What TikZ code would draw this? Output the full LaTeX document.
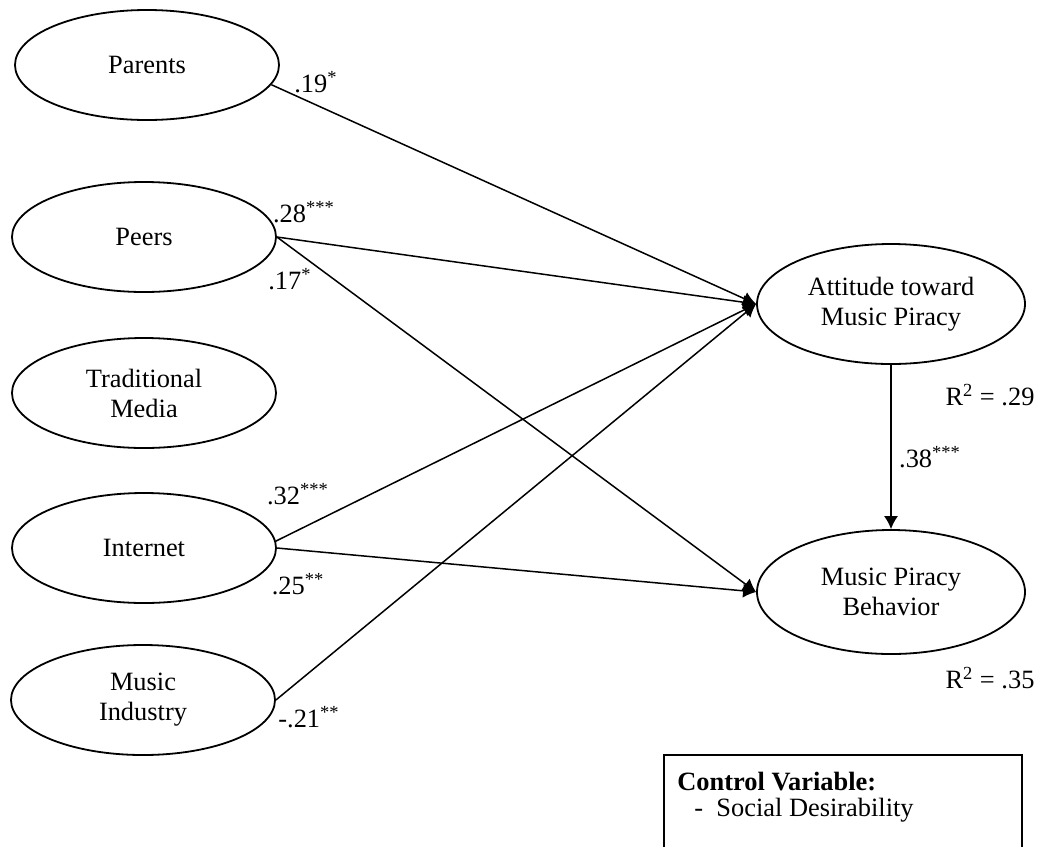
\documentclass[tikz,border=0pt]{standalone}
\usepackage{fontspec}
\setmainfont{Liberation Serif}
\usetikzlibrary{shapes.geometric,arrows.meta}
\begin{document}
\begin{tikzpicture}[x=0.5pt,y=-0.5pt,
  font=\fontsize{13.2}{15}\selectfont,
  lat/.style={draw,ellipse,line width=0.9pt,inner sep=0pt,minimum width=132pt,minimum height=55pt},
  dep/.style={draw,ellipse,line width=0.9pt,inner sep=0pt,minimum width=134pt,minimum height=60pt},
  path/.style={line width=0.75pt,-{Latex[length=6.5pt,width=7pt]}},
  coef/.style={inner sep=0pt}]
\useasboundingbox (0,0) rectangle (1038,847);
% predictors
\node[lat,label={[align=center]center:Parents}] (par) at (147,65) {};
\node[lat,label={[align=center]center:Peers}] (pee) at (144,237) {};
\node[lat,label={[align=center]center:Traditional\\Media}] (tra) at (144,393) {};
\node[lat,label={[align=center]center:Internet}] (int) at (144,548) {};
\node[lat,label={[align=center]center:Music\\Industry}] (mus) at (143,700) {};
% outcomes
\node[dep,label={[align=center]center:Attitude toward\\Music Piracy}] (att) at (891,304) {};
\node[dep,minimum height=62pt,label={[align=center]center:Music Piracy\\Behavior}] (beh) at (891,592) {};
% paths
\draw[path] (par.-9) -- (att.west);
\draw[path] (pee.east) -- (att.west);
\draw[path] (pee.east) -- (beh.west);
\draw[path] (int.3) -- (att.west);
\draw[path] (int.east) -- (beh.west);
\draw[path] (mus.east) -- (att.west);
\draw[path] (att.south) -- (beh.north);
% coefficients
\node[coef] (c1) at (316,82) {.19\textsuperscript{*}};
\node[coef] (c2) at (304,212) {.28\textsuperscript{***}};
\node[coef] (c3) at (290,279) {.17\textsuperscript{*}};
\node[coef] (c4) at (298,494) {.32\textsuperscript{***}};
\node[coef] (c5) at (298,584) {.25\textsuperscript{**}};
\node[coef] (c6) at (309,717) {-.21\textsuperscript{**}};
\node[coef] (c7) at (930,457) {.38\textsuperscript{***}};
\node[coef] (r1) at (990,395) {R\textsuperscript{2} = .29};
\node[coef] (r2) at (990,678) {R\textsuperscript{2} = .35};
% control box
\draw[line width=0.8pt] (664,847) -- (664,755) -- (1022,755) -- (1022,847);
\node[coef,anchor=west] (cv) at (677,782) {\textbf{Control Variable:}};
\node[coef,anchor=west] (sd) at (694,810) {-\ \ Social Desirability};
\end{tikzpicture}
\end{document}
